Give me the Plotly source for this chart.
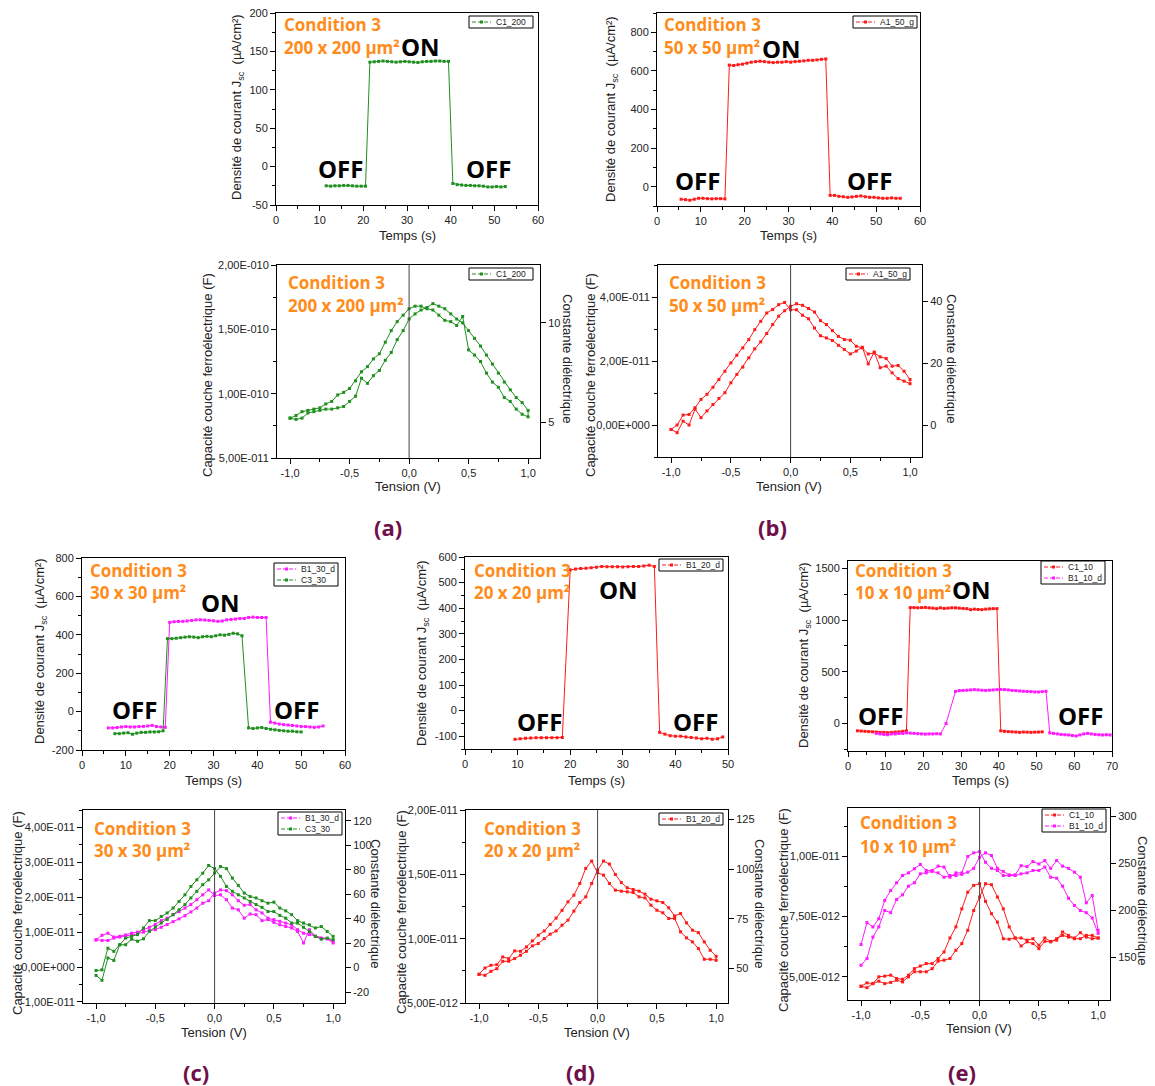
import plotly.graph_objects as go

W, H = 1155, 1086

# ---------------- Time response data (Jsc in µA/cm², time in s) ----------------
t_a = [11.5, 12.5, 13.5, 14.5, 15.5, 16.5, 17.5, 18.5, 19.5, 20.5,
       21.5, 22.5, 23.5, 24.5, 25.5, 26.5, 27.5, 28.5, 29.5, 30.5, 31.5, 32.5, 33.5, 34.5, 35.5, 36.5, 37.5, 38.5, 39.5,
       40.5, 41.5, 42.5, 43.5, 44.5, 45.5, 46.5, 47.5, 48.5, 49.5, 50.5, 51.5, 52.5]
j_a_c1_200 = [-25, -25.5, -25, -25, -24.5, -24.5, -25, -25.5, -25.5, -25.5,
              136, 136.5, 137, 137.5, 137, 136.5, 136, 136.5, 137, 136.5, 136, 135.5, 136.5, 137, 137, 137.5, 137.5, 137, 137,
              -22, -23.5, -24, -24.5, -24.5, -25, -25, -25.5, -26.5, -26.5, -26, -26.5, -26]

t_b = [5.5, 6.5, 7.5, 8.5, 9.5, 10.5, 11.5, 12.5, 13.5, 14.5, 15.5,
       16.5, 17.5, 18.5, 19.5, 20.5, 21.5, 22.5, 23.5, 24.5, 25.5, 26.5, 27.5, 28.5, 29.5, 30.5, 31.5, 32.5, 33.5, 34.5, 35.5, 36.5, 37.5, 38.5,
       39.5, 40.5, 41.5, 42.5, 43.5, 44.5, 45.5, 46.5, 47.5, 48.5, 49.5, 50.5, 51.5, 52.5, 53.5, 54.5, 55.5]
j_b_a1_50 = [-65, -67, -70, -65, -60, -60, -62, -63, -62, -62, -63,
             630, 628, 632, 635, 640, 645, 648, 650, 648, 645, 643, 645, 645, 648, 645, 648, 650, 652, 655, 655, 657, 660, 662,
             -45, -45, -50, -52, -55, -53, -50, -48, -52, -55, -55, -58, -60, -60, -58, -60, -60]

t_c_b1 = [6, 7, 8, 9, 10, 11, 12, 13, 14, 15, 16, 17, 18, 19,
          20, 21, 22, 23, 24, 25, 26, 27, 28, 29, 30, 31, 32, 33, 34, 35, 36, 37, 38, 39, 40, 41, 42,
          43, 44, 45, 46, 47, 48, 49, 50, 51, 52, 53, 54, 55]
j_c_b1_30 = [-85, -85, -83, -80, -78, -80, -80, -78, -77, -75, -72, -78, -80, -82,
             465, 468, 470, 470, 472, 475, 478, 478, 477, 475, 473, 470, 472, 478, 480, 482, 485, 485, 490, 492, 490, 490, 490,
             -55, -60, -65, -68, -70, -72, -75, -78, -78, -80, -82, -80, -75]
t_c_c3 = [7.5, 8.5, 9.5, 10.5, 11.5, 12.5, 13.5, 14.5, 15.5, 16.5, 17.5, 18.5,
          19.5, 20.5, 21.5, 22.5, 23.5, 24.5, 25.5, 26.5, 27.5, 28.5, 29.5, 30.5, 31.5, 32.5, 33.5, 34.5, 35.5, 36.5,
          38, 39, 40, 41, 42, 43, 44, 45, 46, 47, 48, 49, 50]
j_c_c3_30 = [-115, -115, -112, -110, -118, -112, -108, -108, -106, -106, -105, -100,
             380, 380, 382, 385, 388, 390, 388, 385, 390, 392, 390, 395, 400, 398, 402, 408, 405, 395,
             -85, -88, -85, -83, -88, -92, -95, -98, -100, -102, -102, -105, -106]

t_d = [9.5, 10.5, 11.5, 12.5, 13.5, 14.5, 15.5, 16.5, 17.5, 18.5,
       20, 21, 22, 23, 24, 25, 26, 27, 28, 29, 30, 31, 32, 33, 34, 35, 36,
       37, 38, 39, 40, 41, 42, 43, 44, 45, 46, 47, 48, 49]
j_d_b1_20 = [-112, -110, -108, -107, -106, -106, -106, -106, -106, -105,
             550, 553, 555, 556, 558, 560, 563, 562, 562, 562, 561, 562, 563, 563, 565, 568, 563,
             -85, -92, -98, -100, -100, -103, -105, -107, -110, -108, -112, -110, -103]

t_e_c1 = [2.5, 3.5, 4.5, 5.5, 6.5, 7.5, 8.5, 9.5, 10.5, 11.5, 12.5, 13.5, 14.5, 15.5,
          16.5, 17.5, 18.5, 19.5, 20.5, 21.5, 22.5, 23.5, 24.5, 25.5, 26.5, 27.5, 28.5, 29.5, 30.5, 31.5, 32.5, 33.5, 34.5, 35.5, 36.5, 37.5, 38.5, 39.5,
          40.5, 41.5, 42.5, 43.5, 44.5, 45.5, 46.5, 47.5, 48.5, 49.5, 50.5, 51.5]
j_e_c1_10 = [-70, -72, -75, -78, -80, -82, -85, -85, -88, -85, -82, -80, -75, -70,
             1120, 1120, 1118, 1120, 1122, 1118, 1115, 1110, 1118, 1112, 1115, 1118, 1118, 1115, 1112, 1110, 1100, 1105, 1102, 1100, 1105, 1108, 1110, 1110,
             -70, -75, -78, -80, -82, -85, -82, -83, -85, -83, -82, -80]
t_e_b1 = [7.5, 8.5, 9.5, 10.5, 11.5, 12.5, 13.5, 14.5, 15.5, 16.5, 17.5, 18.5, 19.5, 20.5, 21.5, 22.5, 23.5, 24.5,
          26, 28.5,
          29.5, 30.5, 31.5, 32.5, 33.5, 34.5, 35.5, 36.5, 37.5, 38.5, 39.5, 40.5, 41.5, 42.5, 43.5, 44.5, 45.5, 46.5, 47.5, 48.5, 49.5, 50.5, 51.5, 52.5,
          53.5, 54.5, 55.5, 56.5, 57.5, 58.5, 59.5, 60.5, 61.5, 62.5, 63.5, 64.5, 65.5, 66.5, 67.5, 68.5, 69.5]
j_e_b1_10 = [-95, -100, -105, -108, -100, -100, -95, -95, -90, -92, -95, -98, -100, -102, -100, -100, -98, -100,
             0, 310,
             318, 320, 322, 325, 328, 325, 322, 320, 322, 325, 328, 330, 328, 325, 320, 318, 315, 312, 310, 308, 305, 305, 308, 312,
             -90, -95, -100, -105, -108, -110, -115, -120, -110, -100, -95, -100, -105, -108, -110, -108, -110]

# ---------------- C-V data (voltage sweep up then down) ----------------
volts_up = [-1.0, -0.95, -0.9, -0.85, -0.8, -0.75, -0.7, -0.65, -0.6, -0.55, -0.5, -0.45, -0.4, -0.35, -0.3,
            -0.25, -0.2, -0.15, -0.1, -0.05, 0.0, 0.05, 0.1, 0.15, 0.2, 0.25, 0.3, 0.35, 0.4, 0.45, 0.5,
            0.55, 0.6, 0.65, 0.7, 0.75, 0.8, 0.85, 0.9, 0.95, 1.0]
volts_down = volts_up[::-1]

# (a) C1_200, units of 1e-10 F
cap_a_up = [0.81, 0.80, 0.81, 0.85, 0.86, 0.87, 0.88, 0.88, 0.89, 0.90, 0.94, 0.98, 1.12, 1.08, 1.14, 1.18, 1.26, 1.32, 1.42, 1.49,
            1.58, 1.62, 1.65, 1.67, 1.70, 1.68, 1.66, 1.62, 1.58, 1.55, 1.49, 1.43, 1.37, 1.30, 1.23, 1.16, 1.09, 1.03, 0.97, 0.93, 0.87]
cap_a_down = [0.82, 0.84, 0.88, 0.94, 0.97, 1.05, 1.09, 1.16, 1.25, 1.30, 1.34, 1.60, 1.53, 1.56, 1.57, 1.61, 1.65, 1.66, 1.68, 1.68,
              1.66, 1.61, 1.56, 1.49, 1.40, 1.31, 1.27, 1.21, 1.17, 1.10, 1.04, 1.01, 0.99, 0.94, 0.92, 0.89, 0.88, 0.87, 0.86, 0.83, 0.81]

# (b) A1_50_g, units of 1e-11 F
cap_b_up = [-0.14, -0.24, 0.12, 0.00, 0.50, 0.23, 0.44, 0.64, 0.83, 1.01, 1.32, 1.58, 1.81, 2.10, 2.38, 2.60, 2.86, 3.14, 3.40, 3.57,
            3.71, 3.79, 3.74, 3.64, 3.53, 3.26, 3.14, 2.95, 2.77, 2.67, 2.65, 2.46, 2.41, 2.22, 2.25, 2.13, 2.08, 1.84, 1.86, 1.68, 1.42]
cap_b_down = [1.29, 1.37, 1.45, 1.63, 1.84, 1.79, 2.28, 1.91, 2.43, 2.31, 2.22, 2.36, 2.49, 2.64, 2.72, 2.79, 3.03, 3.32, 3.43, 3.60,
              3.60, 3.83, 3.76, 3.61, 3.50, 3.24, 2.98, 2.67, 2.41, 2.18, 1.94, 1.68, 1.42, 1.18, 0.96, 0.80, 0.54, 0.33, 0.31, 0.00, -0.14]

# (c) B1_30_d and C3_30, units of 1e-11 F
cap_c_b1_up = [0.78, 0.76, 0.76, 0.83, 0.86, 0.88, 0.92, 0.95, 1.00, 1.05, 1.07, 1.14, 1.22, 1.30, 1.38, 1.47, 1.58, 1.69, 1.83, 1.90,
               2.12, 2.21, 2.19, 2.07, 1.90, 1.77, 1.79, 1.64, 1.55, 1.40, 1.36, 1.31, 1.26, 1.21, 1.07, 0.97, 0.93, 0.88, 0.83, 0.81, 0.69]
cap_c_b1_down = [0.74, 0.81, 0.81, 0.88, 1.07, 0.69, 1.02, 1.12, 1.16, 1.21, 1.28, 1.36, 1.33, 1.50, 1.52, 1.40, 1.64, 1.69, 1.93, 2.07,
                 2.05, 2.21, 2.07, 1.93, 1.79, 1.69, 1.59, 1.50, 1.40, 1.33, 1.22, 1.14, 1.07, 1.00, 0.97, 0.92, 0.88, 0.86, 0.97, 0.91, 0.78]
cap_c_c3_up = [-0.24, -0.38, 0.26, 0.19, 0.64, 0.64, 0.80, 0.74, 0.81, 1.02, 1.14, 1.26, 1.36, 1.50, 1.64, 1.79, 1.98, 2.17, 2.36, 2.50,
               2.70, 2.88, 2.82, 2.55, 2.34, 2.12, 2.02, 1.98, 1.90, 1.83, 1.86, 1.69, 1.61, 1.50, 1.33, 1.26, 1.21, 1.12, 1.16, 1.02, 0.88]
cap_c_c3_down = [0.78, 0.83, 0.80, 0.88, 1.02, 1.14, 1.26, 1.26, 1.40, 1.48, 1.59, 1.59, 1.71, 1.79, 1.88, 1.98, 2.07, 2.17, 2.31, 2.60,
                 2.82, 2.91, 2.69, 2.50, 2.31, 2.07, 1.88, 1.69, 1.55, 1.45, 1.33, 1.33, 1.12, 0.93, 0.88, 0.83, 0.64, 0.45, 0.54, -0.08, -0.10]

# (d) B1_20_d, units of 1e-12 F
cap_d_up = [7.23, 7.15, 7.46, 7.67, 8.24, 8.24, 8.45, 8.71, 9.02, 9.44, 9.62, 10.0, 10.35, 10.6, 11.05, 11.44, 12.14, 12.81, 13.25, 14.29,
            15.33, 16.03, 15.8, 14.99, 14.37, 13.95, 13.82, 13.69, 13.46, 13.07, 12.94, 12.81, 12.4, 11.77, 11.95, 11.23, 10.66, 10.47, 9.75, 9.10, 8.63]
cap_d_down = [8.32, 8.40, 8.40, 9.23, 9.75, 10.06, 10.53, 11.57, 11.57, 12.01, 12.21, 12.6, 13.17, 13.25, 13.59, 13.64, 13.69, 13.77, 14.29, 14.94,
              15.12, 16.03, 15.46, 14.29, 13.38, 12.86, 12.2, 11.6, 11.1, 10.6, 10.27, 9.83, 9.36, 9.02, 9.05, 8.45, 8.58, 7.98, 7.93, 7.72, 7.23]

# (e) C1_10 and B1_10_d, units of 1e-12 F
cap_e_c1_up = [4.61, 4.55, 4.72, 4.82, 4.72, 4.77, 4.86, 4.79, 5.0, 5.21, 5.21, 5.21, 5.34, 5.65, 5.69, 5.76, 6.10, 6.38, 6.93, 7.75,
               8.31, 8.86, 8.82, 8.31, 7.82, 7.07, 6.61, 6.61, 6.52, 6.58, 6.31, 6.61, 6.47, 6.52, 6.86, 6.72, 6.61, 6.83, 6.65, 6.58, 6.61]
cap_e_c1_down = [6.61, 6.72, 6.72, 6.58, 6.58, 6.65, 6.72, 6.58, 6.45, 6.47, 6.17, 6.38, 6.45, 6.28, 6.61, 6.56, 6.58, 7.27, 7.62, 8.13,
                 8.86, 8.79, 8.51, 7.82, 7.07, 6.61, 6.03, 5.76, 5.55, 5.55, 5.45, 5.34, 5.07, 4.90, 4.93, 5.07, 5.03, 5.0, 4.72, 4.75, 4.61]
cap_e_b1_up = [5.48, 5.76, 6.65, 7.07, 7.75, 7.66, 8.21, 8.40, 8.76, 8.90, 9.27, 9.31, 9.37, 9.31, 9.13, 9.20, 9.20, 9.25, 9.34, 9.50,
               9.96, 10.14, 10.03, 9.50, 9.37, 9.23, 9.23, 9.61, 9.57, 9.78, 9.68, 9.82, 9.50, 9.82, 9.59, 9.50, 9.34, 9.13, 8.07, 8.37, 6.93]
cap_e_b1_down = [6.80, 7.44, 7.66, 7.75, 7.96, 8.26, 8.76, 9.09, 9.13, 9.55, 9.41, 9.41, 9.31, 9.27, 9.20, 9.20, 9.20, 9.41, 9.50, 9.75,
                 10.19, 10.14, 9.99, 9.31, 9.31, 9.13, 9.55, 9.59, 9.41, 9.41, 9.66, 9.48, 9.31, 9.20, 8.90, 8.58, 8.17, 7.41, 7.07, 7.25, 6.34]

# ---------------- tick labels ----------------
time_ticks_60 = [0, 10, 20, 30, 40, 50, 60]
time_ticks_50 = [0, 10, 20, 30, 40, 50]
time_ticks_70 = [0, 10, 20, 30, 40, 50, 60, 70]
j_ticks_a = [-50, 0, 50, 100, 150, 200]
j_ticks_b = [0, 200, 400, 600, 800]
j_ticks_c = [-200, 0, 200, 400, 600, 800]
j_ticks_d = [-100, 0, 100, 200, 300, 400, 500, 600]
j_ticks_e = [0, 500, 1000, 1500]
v_tickvals = [-1.0, -0.5, 0.0, 0.5, 1.0]
v_ticktext = ["-1,0", "-0,5", "0,0", "0,5", "1,0"]
cap_ticks_a = [5e-11, 1e-10, 1.5e-10, 2e-10]
cap_text_a = ["5,00E-011", "1,00E-010", "1,50E-010", "2,00E-010"]
cap_ticks_b = [0, 2e-11, 4e-11]
cap_text_b = ["0,00E+000", "2,00E-011", "4,00E-011"]
cap_ticks_c = [-1e-11, 0, 1e-11, 2e-11, 3e-11, 4e-11]
cap_text_c = ["-1,00E-011", "0,00E+000", "1,00E-011", "2,00E-011", "3,00E-011", "4,00E-011"]
cap_ticks_d = [5e-12, 1e-11, 1.5e-11, 2e-11]
cap_text_d = ["5,00E-012", "1,00E-011", "1,50E-011", "2,00E-011"]
cap_ticks_e = [5e-12, 7.5e-12, 1e-11]
cap_text_e = ["5,00E-012", "7,50E-012", "1,00E-011"]
eps_ticks_a = [5, 10]
eps_ticks_b = [0, 20, 40]
eps_ticks_c = [-20, 0, 20, 40, 60, 80, 100, 120]
eps_ticks_d = [50, 75, 100, 125]
eps_ticks_e = [150, 200, 250, 300]

# ---------------- styles ----------------
GREEN = "#1f8f1f"
RED = "#ff1a1a"
MAGENTA = "#ff1aff"
ORANGE = "#ff8c1a"
LABEL = "#6e0f4a"
AX_FONT = "Liberation Sans"
TXT_FONT = "Open Sans"


def pxx(x):
    return x / W


def pxy(y):
    return 1 - y / H


# panel frames in pixels: (left, top, right, bottom)
frames = {
    1: (276, 13, 538, 205), 2: (657, 13, 920, 206),
    3: (82, 558, 345, 750), 4: (465, 557, 728, 749), 5: (848, 561, 1112, 751),
    6: (277, 265, 540, 458), 7: (658, 265, 922, 457),
    8: (83, 810, 345, 1003), 9: (466, 810, 728, 1003), 10: (848, 808, 1110, 1000),
}

fig = go.Figure()
layout = dict(template="none", width=W, height=H, margin=dict(l=0, r=0, t=0, b=0, pad=0),
              paper_bgcolor="white", plot_bgcolor="white", showlegend=False)


def base_axis():
    return dict(showline=True, linecolor="black", linewidth=1, mirror=True, automargin=False,
                ticks="outside", ticklen=5, tickwidth=1, tickcolor="black",
                showgrid=False, zeroline=False, fixedrange=True,
                tickfont=dict(family=AX_FONT, size=11, color="#222"))


def set_axes(i, xr, xtv, xtt, xminor, yr, ytv, ytt, yminor):
    l, t, r, b = frames[i]
    xa = base_axis()
    xa.update(domain=[pxx(l), pxx(r)], range=xr, anchor="y%d" % i,
              tickmode="array", tickvals=xtv, ticktext=xtt,
              minor=dict(ticks="outside", ticklen=3, tickcolor="black", dtick=xminor[0], tick0=xminor[1], showgrid=False))
    ya = base_axis()
    ya.update(domain=[pxy(b), pxy(t)], range=yr, anchor="x%d" % i,
              tickmode="array", tickvals=ytv, ticktext=ytt,
              minor=dict(ticks="outside", ticklen=3, tickcolor="black", dtick=yminor[0], tick0=yminor[1], showgrid=False))
    layout["xaxis%s" % ("" if i == 1 else i)] = xa
    layout["yaxis%s" % ("" if i == 1 else i)] = ya


def set_right(i, j, yr, tv):
    l, t, r, b = frames[i]
    ya = base_axis()
    ya.update(domain=[pxy(b), pxy(t)], range=yr, anchor="x%d" % i, overlaying="y%d" % i,
              side="right", mirror=False, tickmode="array", tickvals=tv, ticktext=[str(v) for v in tv])
    layout["yaxis%d" % j] = ya
    fig.add_trace(go.Scatter(x=[None], y=[None], xaxis="x%d" % i, yaxis="y%d" % j,
                             showlegend=False, hoverinfo="skip"))


legend_entries = {}


def add_series(i, x, y, name, color):
    fig.add_trace(go.Scatter(
        x=x, y=y, mode="lines+markers", name=name,
        line=dict(color=color, width=1),
        marker=dict(symbol="square", size=3, color=color),
        xaxis="x%d" % i, yaxis="y%d" % i, showlegend=False))
    legend_entries.setdefault(i, []).append((name, color))


# ---- top panels: time response ----
set_axes(1, [0, 60], time_ticks_60, [str(v) for v in time_ticks_60], (5, 0),
         [-50, 200], j_ticks_a, [str(v) for v in j_ticks_a], (25, 0))
add_series(1, t_a, j_a_c1_200, "C1_200", GREEN)

set_axes(2, [0, 60], time_ticks_60, [str(v) for v in time_ticks_60], (5, 0),
         [-100, 900], j_ticks_b, [str(v) for v in j_ticks_b], (100, 0))
add_series(2, t_b, j_b_a1_50, "A1_50_g", RED)

set_axes(3, [0, 60], time_ticks_60, [str(v) for v in time_ticks_60], (5, 0),
         [-200, 800], j_ticks_c, [str(v) for v in j_ticks_c], (100, 0))
add_series(3, t_c_b1, j_c_b1_30, "B1_30_d", MAGENTA)
add_series(3, t_c_c3, j_c_c3_30, "C3_30", GREEN)

set_axes(4, [0, 50], time_ticks_50, [str(v) for v in time_ticks_50], (5, 0),
         [-150, 600], j_ticks_d, [str(v) for v in j_ticks_d], (50, 0))
add_series(4, t_d, j_d_b1_20, "B1_20_d", RED)

set_axes(5, [0, 70], time_ticks_70, [str(v) for v in time_ticks_70], (5, 0),
         [-265, 1570], j_ticks_e, [str(v) for v in j_ticks_e], (250, 0))
add_series(5, t_e_c1, j_e_c1_10, "C1_10", RED)
add_series(5, t_e_b1, j_e_b1_10, "B1_10_d", MAGENTA)

# ---- bottom panels: C-V loops ----
vx = volts_up + volts_down
xr_v = [-1.11, 1.10]

set_axes(6, xr_v, v_tickvals, v_ticktext, (0.25, 0), [5e-11, 2e-10], cap_ticks_a, cap_text_a, (2.5e-11, 0))
set_right(6, 11, [3.2, 12.9], eps_ticks_a)
add_series(6, vx, [c * 1e-10 for c in cap_a_up + cap_a_down], "C1_200", GREEN)

set_axes(7, xr_v, v_tickvals, v_ticktext, (0.25, 0), [-1e-11, 5e-11], cap_ticks_b, cap_text_b, (1e-11, 0))
set_right(7, 12, [-10.2, 51.8], eps_ticks_b)
add_series(7, vx, [c * 1e-11 for c in cap_b_up + cap_b_down], "A1_50_g", RED)

set_axes(8, xr_v, v_tickvals, v_ticktext, (0.25, 0), [-1.03e-11, 4.5e-11], cap_ticks_c, cap_text_c, (5e-12, 0))
set_right(8, 13, [-29, 129], eps_ticks_c)
add_series(8, vx, [c * 1e-11 for c in cap_c_b1_up + cap_c_b1_down], "B1_30_d", MAGENTA)
add_series(8, vx, [c * 1e-11 for c in cap_c_c3_up + cap_c_c3_down], "C3_30", GREEN)

set_axes(9, xr_v, v_tickvals, v_ticktext, (0.25, 0), [5e-12, 2e-11], cap_ticks_d, cap_text_d, (2.5e-12, 0))
set_right(9, 14, [32.7, 129.7], eps_ticks_d)
add_series(9, vx, [c * 1e-12 for c in cap_d_up + cap_d_down], "B1_20_d", RED)

set_axes(10, xr_v, v_tickvals, v_ticktext, (0.25, 0), [4.04e-12, 1.2e-11], cap_ticks_e, cap_text_e, (1.25e-12, 0))
set_right(10, 15, [104.8, 308.5], eps_ticks_e)
add_series(10, vx, [c * 1e-12 for c in cap_e_c1_up + cap_e_c1_down], "C1_10", RED)
add_series(10, vx, [c * 1e-12 for c in cap_e_b1_up + cap_e_b1_down], "B1_10_d", MAGENTA)

shapes = []
ann = []


def text(x, y, s, size, color, font=TXT_FONT, xanchor="center", angle=0, bold=True):
    ann.append(dict(x=pxx(x), y=pxy(y), xref="paper", yref="paper", showarrow=False,
                    text=("<b>%s</b>" % s) if bold else s, textangle=angle,
                    xanchor=xanchor, yanchor="middle",
                    font=dict(family=font, size=size, color=color)))


# Origin-style legend boxes (right edge, top) in pixels
legend_pos = {1: (533, 16), 2: (917, 16), 3: (338, 563), 4: (723, 559), 5: (1105, 561),
              6: (533, 268), 7: (910, 268), 8: (342, 812), 9: (723, 813), 10: (1106, 809)}
LEG_W, ROW = 64, 11
for i, (rx, ty) in legend_pos.items():
    lx = rx - LEG_W
    entries = legend_entries[i]
    hb = ROW * len(entries) + 1
    shapes.append(dict(type="rect", xref="paper", yref="paper", x0=pxx(lx), x1=pxx(rx),
                       y0=pxy(ty + hb), y1=pxy(ty), line=dict(color="black", width=1), fillcolor="white", layer="above"))
    for k, (name, color) in enumerate(entries):
        cy = ty + 6 + ROW * k
        shapes.append(dict(type="line", xref="paper", yref="paper", x0=pxx(lx + 3), x1=pxx(lx + 22),
                           y0=pxy(cy), y1=pxy(cy), line=dict(color=color, width=1, dash="4px,2px"), layer="above"))
        shapes.append(dict(type="rect", xref="paper", yref="paper", x0=pxx(lx + 11), x1=pxx(lx + 14),
                           y0=pxy(cy + 1.5), y1=pxy(cy - 1.5), line=dict(width=0), fillcolor=color, layer="above"))
        ann.append(dict(x=pxx(lx + 25), y=pxy(cy), xref="paper", yref="paper", showarrow=False,
                        text=name, xanchor="left", yanchor="middle",
                        font=dict(family=AX_FONT, size=8.5, color="#222")))

# vertical zero lines on C-V panels
for i in range(6, 11):
    shapes.append(dict(type="line", xref="x%d" % i, yref="y%d domain" % i, x0=0, x1=0, y0=0, y1=1,
                       line=dict(color="#444", width=1)))
layout["shapes"] = shapes

# condition labels
cond = [(282, 25, 47, "200 x 200 µm²"), (662, 25, 47, "50 x 50 µm²"),
        (286, 282, 305, "200 x 200 µm²"), (667, 282, 305, "50 x 50 µm²"),
        (88, 570, 592, "30 x 30 µm²"), (472, 570, 592, "20 x 20 µm²"), (853, 570, 592, "10 x 10 µm²"),
        (92, 828, 850, "30 x 30 µm²"), (482, 828, 850, "20 x 20 µm²"), (858, 822, 846, "10 x 10 µm²")]
for x, y1, y2, s in cond:
    text(x, y1, "Condition 3", 17, ORANGE, xanchor="left")
    text(x, y2, s, 17, ORANGE, xanchor="left")

# ON / OFF labels
onoff = [(420, 46, "ON"), (340, 168, "OFF"), (489, 168, "OFF"),
         (781, 48, "ON"), (697, 180, "OFF"), (869, 180, "OFF"),
         (220, 602, "ON"), (134, 709, "OFF"), (297, 709, "OFF"),
         (618, 589, "ON"), (539, 721, "OFF"), (695, 721, "OFF"),
         (971, 589, "ON"), (880, 715, "OFF"), (1080, 715, "OFF")]
for x, y, s in onoff:
    text(x, y, s, 24, "black")

# axis titles
JT = "Densité de courant J<sub>sc</sub>\u00a0 (µA/cm²)"
CT = "Capacité couche ferroélectrique (F)"
ET = "Constante diélectrique"
for x, y in [(237, 107), (611, 109), (40, 651), (422, 653), (804, 655)]:
    text(x, y, JT, 13, "#222", font=AX_FONT, angle=-90, bold=False)
for x, y in [(407, 235), (788, 235), (213, 780), (596, 780), (980, 780)]:
    text(x, y, "Temps (s)", 13, "#222", font=AX_FONT, bold=False)
for x, y in [(208, 375), (591, 375), (17, 913), (401, 912), (783, 910)]:
    text(x, y, CT, 13, "#222", font=AX_FONT, angle=-90, bold=False)
for x, y in [(567, 358), (951, 358), (376, 903), (760, 903), (1143, 900)]:
    text(x, y, ET, 13, "#222", font=AX_FONT, angle=90, bold=False)
for x, y in [(408, 486), (789, 486), (214, 1032), (597, 1032), (979, 1028)]:
    text(x, y, "Tension (V)", 13, "#222", font=AX_FONT, bold=False)

# panel letters
for x, y, s in [(388, 527, "(a)"), (772, 527, "(b)"), (196, 1072, "(c)"), (580, 1072, "(d)"), (962, 1072, "(e)")]:
    text(x, y, s, 22, LABEL)

layout["annotations"] = ann
fig.update_layout(**layout)
fig.write_html("out.html", config={"displayModeBar": False},
               post_script="document.body.style.margin='0px';document.body.style.overflow='hidden';")
